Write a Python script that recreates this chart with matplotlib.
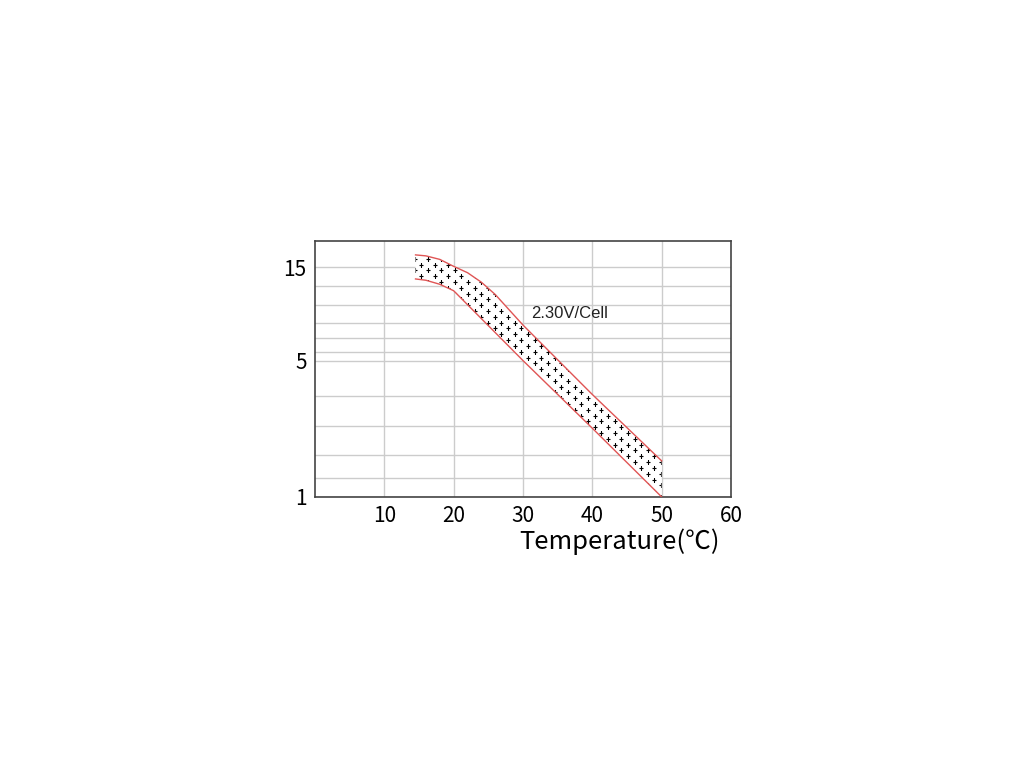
import matplotlib
matplotlib.use('Agg')
import matplotlib.pyplot as plt
import numpy as np

# upper and lower edges of the 2.30V/Cell band
upper_temp = [14.5, 16, 18, 20, 22, 24, 26, 28, 30, 40, 50]
upper_life = [17.4, 17.2, 16.5, 15.2, 14.1, 12.6, 10.9, 9.1, 7.6, 3.35, 1.53]
lower_temp = [14.5, 16, 18, 20, 30, 40, 50]
lower_life = [13.1, 12.9, 12.3, 11.4, 5.0, 2.25, 1.0]

x_ticks = [10, 20, 30, 40, 50, 60]
y_ticks = [1, 5, 15]
y_grid = [1.25, 1.65, 2.3, 3.3, 5.5, 6.5, 7.8, 9.6, 12]

cjk = ['Noto Sans CJK SC', 'DejaVu Sans']


def main():
    fig = plt.figure(figsize=(10.24, 7.68), dpi=100)
    ax = fig.add_axes([0.3076, 0.3529, 0.4063, 0.3333])

    ax.set_yscale('log')
    ax.set_xlim(0, 60)
    ax.set_ylim(1, 20.5)

    # band fill with "+" texture
    poly = ax.fill(upper_temp + lower_temp[::-1], upper_life + lower_life[::-1],
                   facecolor='white', edgecolor='none', zorder=2)[0]
    dx, dy = 0.032, 0.0227
    px, py = [], []
    for j in range(int(1 / dy) + 2):
        for i in range(int(1 / dx) + 2):
            px.append(i * dx + (j % 2) * dx / 2)
            py.append(j * dy)
    sc = ax.scatter(px, py, marker='+', s=10, linewidths=0.8, color='black',
                    transform=ax.transAxes, zorder=3)
    sc.set_clip_path(poly)

    ax.plot(upper_temp, upper_life, color='#e05555', lw=1.0, zorder=4)
    ax.plot(lower_temp, lower_life, color='#e05555', lw=1.0, zorder=4)

    ax.text(31.2, 8.7, '2.30V/Cell', fontsize=12,
            family=['Liberation Sans Narrow', 'Liberation Sans'],
            color='#222222', va='center', ha='left', zorder=5)

    # axes and grid
    ax.set_xticks(x_ticks)
    ax.set_xticklabels([str(v) for v in x_ticks], family=cjk, fontsize=15)
    ax.set_yticks(y_ticks)
    ax.set_yticklabels([str(v) for v in y_ticks], family=cjk, fontsize=15)
    ax.yaxis.set_minor_locator(matplotlib.ticker.NullLocator())
    ax.tick_params(length=0)
    ax.tick_params(axis='x', pad=6)
    ax.tick_params(axis='y', pad=6)
    for v in x_ticks[:-1]:
        ax.axvline(v, color='#cccccc', lw=1.0, zorder=1)
    for v in y_ticks + y_grid:
        ax.axhline(v, color='#cccccc', lw=1.0, zorder=1)
    for s in ax.spines.values():
        s.set_color('#444444')
        s.set_linewidth(1.2)

    ax.set_xlabel('Temperature(℃)', family=cjk, fontsize=18.5)
    ax.xaxis.set_label_coords(0.733, -0.122)

    fig.savefig('out.png', dpi=100)


if __name__ == '__main__':
    main()
